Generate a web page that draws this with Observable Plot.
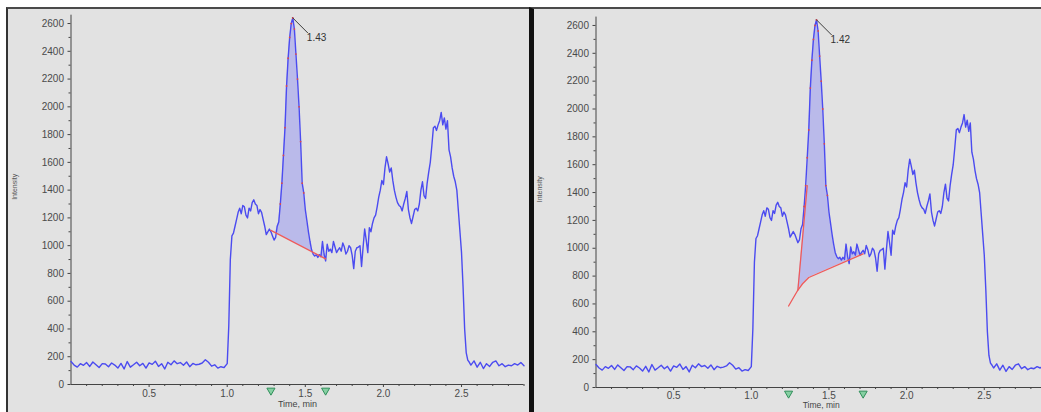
<!DOCTYPE html>
<html><head><meta charset="utf-8">
<script src="https://cdn.jsdelivr.net/npm/d3@7"></script>
<script src="https://cdn.jsdelivr.net/npm/@observablehq/plot@0.6"></script>
<style>
html,body{margin:0;padding:0;background:#fff;}
#wrap{position:relative;width:1041px;height:412px;overflow:hidden;background:#fff;font-family:"Liberation Sans",Arial,sans-serif;}
.panel{position:absolute;top:7px;height:405px;background:#e2e2e2;border-top:2px solid #4a4a4a;box-sizing:border-box;overflow:hidden;}
#p1{left:6px;width:524px;border-left:2px solid #333;}
#p2{left:529px;width:520px;border-left:5px solid #111;}
.panel svg{position:absolute;left:0;top:0;}
</style></head>
<body>
<div id="wrap"><div class="panel" id="p1"></div><div class="panel" id="p2"></div></div>
<script>
// ---- data (time in min, intensity in counts) ----
const time = [
0.00,0.02,0.04,0.06,0.08,0.10,0.12,0.14,0.16,0.18,0.20,0.22,0.24,0.26,0.28,0.30,0.32,0.34,0.36,0.38,
0.40,0.42,0.44,0.46,0.48,0.50,0.52,0.54,0.56,0.58,0.60,0.62,0.64,0.66,0.68,0.70,0.72,0.74,0.76,0.78,
0.80,0.82,0.84,0.86,0.88,0.90,0.92,0.94,0.96,0.98,
1.00,1.01,1.02,1.03,1.04,1.05,1.06,1.07,1.08,1.09,1.10,1.11,1.12,1.13,1.14,1.15,1.16,1.17,1.18,1.19,
1.20,1.21,1.22,1.23,1.24,1.25,1.26,1.27,1.28,1.29,1.30,1.31,1.32,1.33,1.34,1.35,1.36,1.37,1.38,1.39,
1.40,1.41,1.42,1.43,1.44,1.45,1.46,1.47,1.48,1.49,1.50,1.51,1.52,1.53,1.54,1.55,1.56,1.57,1.58,1.59,
1.60,1.61,1.62,1.63,1.64,1.65,1.66,1.67,1.68,1.69,1.70,1.71,1.72,1.73,1.74,1.75,1.76,1.77,1.78,1.79,
1.80,1.81,1.82,1.83,1.84,1.85,1.86,1.87,1.88,1.89,1.90,1.91,1.92,1.93,1.94,1.95,1.96,1.97,1.98,1.99,
2.00,2.01,2.02,2.03,2.04,2.05,2.06,2.07,2.08,2.09,2.10,2.11,2.12,2.13,2.14,2.15,2.16,2.17,2.18,2.19,
2.20,2.21,2.22,2.23,2.24,2.25,2.26,2.27,2.28,2.29,2.30,2.31,2.32,2.33,2.34,2.35,2.36,2.37,2.38,2.39,
2.40,2.41,2.42,2.43,2.44,2.45,2.46,2.47,2.48,2.49,2.50,2.51,2.52,2.53,2.54,2.55,2.56,
2.58,2.60,2.62,2.64,2.66,2.68,2.70,2.72,2.74,2.76,2.78,2.80,2.82,2.84,2.86,2.88,2.90
];
const intensity = [
165,140,125,150,138,158,130,162,142,122,150,148,128,155,140,118,152,112,165,125,
142,160,135,152,118,155,145,168,130,150,112,160,142,170,150,158,138,162,128,152,
142,146,155,178,160,132,142,118,128,122,
150,420,900,1070,1090,1140,1190,1240,1270,1230,1290,1280,1220,1200,1270,1250,1310,1330,1300,1290,
1230,1260,1240,1190,1140,1080,1100,1120,1100,1070,1040,1060,1140,1170,1300,1450,1650,1850,2150,2350,
2500,2600,2640,2560,2380,2200,2000,1750,1450,1380,1260,1180,1100,1030,970,940,925,935,915,935,
920,1030,940,890,1010,960,975,950,1030,990,950,970,985,960,1020,990,940,960,1000,985,
930,835,960,985,990,1000,850,990,1120,1040,950,1130,1100,1160,1200,1220,1280,1350,1400,1470,
1440,1560,1640,1590,1530,1560,1470,1400,1350,1310,1290,1280,1250,1300,1340,1390,1260,1200,1160,1210,
1260,1270,1250,1300,1400,1460,1360,1340,1450,1530,1600,1720,1850,1860,1830,1870,1900,1960,1870,1920,
1840,1900,1690,1640,1560,1500,1460,1400,1250,1100,950,700,400,230,175,160,140,
170,125,160,115,150,130,160,170,135,150,128,140,135,150,140,158,135
];

// integration of the 1.42 min peak, left panel (straight baseline)
const leftBaselineTime = [1.28, 1.63];
const leftBaselineIntensity = [1110, 905];
const leftMarkers = [1.28, 1.63];
const leftApexLabel = "1.43";

// integration of the same peak, right panel (curved baseline + drop line)
const rightBaselineTime = [1.30, 1.33, 1.37, 1.72];
const rightBaselineIntensity = [700, 745, 790, 960];
const rightDropTime = [1.24, 1.30, 1.36];
const rightDropIntensity = [585, 700, 1450];
const rightMarkers = [1.24, 1.72];
const rightApexLabel = "1.42";

const apexTime = 1.42, apexIntensity = 2640;

const yTicks = [0,200,400,600,800,1000,1200,1400,1600,1800,2000,2200,2400,2600];
const yMinorTicks = [100,300,500,700,900,1100,1300,1500,1700,1900,2100,2300,2500];
const xTicks = [0.5,1.0,1.5,2.0,2.5];
const xMinorTicks = [0.1,0.2,0.3,0.4,0.6,0.7,0.8,0.9,1.1,1.2,1.3,1.4,1.6,1.7,1.8,1.9,2.1,2.2,2.3,2.4,2.6,2.7,2.8,2.9];
const xTitle = "Time, min";
const yTitle = "Intensity";

// ---- helpers ----
const trace = time.map((t, i) => ({t, v: intensity[i]}));
function interp(ts, vs, t) {
  if (t <= ts[0]) return vs[0];
  for (let i = 1; i < ts.length; i++) if (t <= ts[i] + 1e-9) return vs[i-1] + (vs[i]-vs[i-1]) * (t-ts[i-1]) / (ts[i]-ts[i-1]);
  return vs[vs.length-1];
}
function fillData(bt, bv, capT, capV) {
  const t0 = Math.min(bt[0], capT ? capT[1] : Infinity), t1 = bt[bt.length-1];
  return trace.filter(d => d.t >= t0 - 1e-9 && d.t <= t1 + 1e-9).map(d => {
    const b = interp(bt, bv, d.t);
    let top = d.v;
    if (capT && d.t <= capT[capT.length-1] + 1e-9) top = Math.min(top, interp(capT, capV, d.t));
    return {t: d.t, b, top: Math.max(b, top)};
  });
}
const toPts = (ts, vs) => ts.map((t, i) => ({t, v: vs[i]}));
const leader = {draw(ctx, l) { ctx.moveTo(0, 0); ctx.lineTo(0, -l); }};

function chart(cfg) {
  const apex = [{t: apexTime, v: apexIntensity, label: cfg.label}];
  const marks = [
    Plot.areaY(cfg.fill, {x: "t", y1: "b", y2: "top", fill: "#babaea"}),
    Plot.ruleX([0], {stroke: "#444", strokeWidth: 1}),
    Plot.ruleY([0], {stroke: "#444", strokeWidth: 1}),
    Plot.axisY(yTicks, {tickSize: 3, tickPadding: 4, label: null, fontSize: 10, tickFormat: d => String(d), stroke: "#444", fill: "#4a4a4a"}),
    Plot.axisY(yMinorTicks, {tickSize: 2, label: null, tickFormat: () => "", stroke: "#444"}),
    Plot.axisX(xTicks, {tickSize: 3, tickPadding: cfg.xPad, label: null, fontSize: 10, tickFormat: d3.format(".1f"), stroke: "#444", fill: "#4a4a4a"}),
    Plot.axisX(xMinorTicks, {tickSize: 2, label: null, tickFormat: () => "", stroke: "#444"}),
    Plot.line(trace, {x: "t", y: "v", stroke: "#4b4bf0", strokeWidth: 1.4}),
    ...cfg.redLines.map(pts => Plot.line(pts, {x: "t", y: "v", stroke: "#ef5a5a", strokeWidth: 1.3})),
    Plot.dot(trace.filter(d => d.t >= 1.34 && d.t <= 1.49), {x: "t", y: "v", r: 0.9, fill: "#e04848"}),
    Plot.dot(cfg.markers, {x: d => d, y: () => 0, symbol: "triangle", rotate: 180, r: 3, dy: 6, fill: "#86cfa2", stroke: "#2f8f5a", strokeWidth: 1}),
    Plot.vector(apex, {x: "t", y: "v", length: 21, rotate: 135, anchor: "start", shape: leader, stroke: "#333", strokeWidth: 0.9}),
    Plot.text(apex, {x: "t", y: "v", text: "label", dx: 14, dy: 20, textAnchor: "start", fontSize: 10, fill: "#333"}),
    Plot.text([yTitle], {frameAnchor: "left", text: d => d, rotate: -90, dx: -56, fontSize: 7, fill: "#555"}),
    Plot.text([xTitle], {frameAnchor: "bottom", text: d => d, dy: cfg.titleDy, fontSize: cfg.titleSize, fill: "#444"})
  ];
  return Plot.plot({
    width: cfg.width, height: cfg.height,
    marginLeft: cfg.ml, marginRight: cfg.mr, marginTop: cfg.mt, marginBottom: cfg.mb,
    x: {domain: [0, 2.9], label: null},
    y: {domain: [0, 2660], label: null},
    style: {background: "transparent", fontFamily: "Liberation Sans, Arial, sans-serif", fontSize: "10px", color: "#4a4a4a", overflow: "visible"},
    marks
  });
}

document.getElementById("p1").appendChild(chart({
  width: 522, height: 403, ml: 62.5, mr: 6.5, mt: 5.7, mb: 28, titleDy: 22, titleSize: 9, xPad: 2,
  label: leftApexLabel, markers: leftMarkers,
  fill: fillData(leftBaselineTime, leftBaselineIntensity, null, null),
  redLines: [toPts(leftBaselineTime, leftBaselineIntensity)]
}));
document.getElementById("p2").appendChild(chart({
  width: 515, height: 403, ml: 61.5, mr: 3.1, mt: 7.6, mb: 25, titleDy: 20.5, titleSize: 8.5, xPad: 1,
  label: rightApexLabel, markers: rightMarkers,
  fill: fillData(rightBaselineTime, rightBaselineIntensity, rightDropTime, rightDropIntensity),
  redLines: [toPts(rightDropTime, rightDropIntensity), toPts(rightBaselineTime, rightBaselineIntensity)]
}));
</script>
</body></html>
